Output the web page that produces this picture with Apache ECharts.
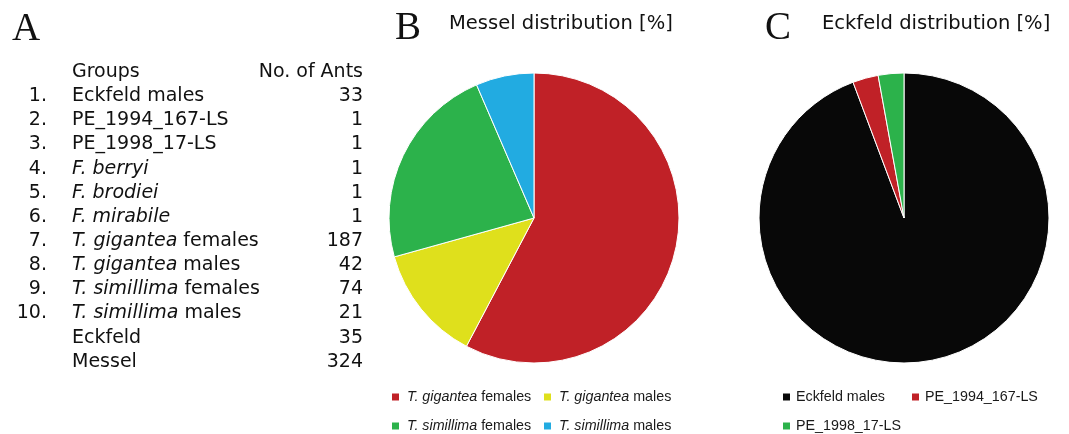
<!DOCTYPE html>
<html>
<head>
<meta charset="utf-8">
<script src="https://cdn.jsdelivr.net/npm/echarts@6/dist/echarts.min.js"></script>
<style>
  html, body { margin: 0; padding: 0; background: #fff; }
  #chart { width: 1069px; height: 434px; }
</style>
</head>
<body>
<div id="chart"></div>
<script>
// Group table (panel A)
const groupNumbers = ['1.', '2.', '3.', '4.', '5.', '6.', '7.', '8.', '9.', '10.', '', ''];
const groupNames = [
  'Eckfeld males', 'PE_1994_167-LS', 'PE_1998_17-LS', 'F. berryi', 'F. brodiei',
  'F. mirabile', 'T. gigantea females', 'T. gigantea males', 'T. simillima females',
  'T. simillima males', 'Eckfeld', 'Messel'
];
const antCounts = [33, 1, 1, 1, 1, 1, 187, 42, 74, 21, 35, 324];

// Messel distribution (panel B)
const messelNames = ['T. gigantea females', 'T. gigantea males', 'T. simillima females', 'T. simillima males'];
const messelCounts = [187, 42, 74, 21];
const messelColors = ['#c02127', '#dfe01c', '#2cb24b', '#22abe1'];

// Eckfeld distribution (panel C)
const eckfeldNames = ['Eckfeld males', 'PE_1994_167-LS', 'PE_1998_17-LS'];
const eckfeldCounts = [33, 1, 1];
const eckfeldColors = ['#080808', '#c02127', '#2cb24b'];

const TABLE_FONT = 'DejaVu Sans, Verdana, sans-serif';
const LEGEND_FONT = 'Liberation Sans, Arial, sans-serif';
const LETTER_FONT = 'Liberation Serif, Times New Roman, serif';
const INK = '#111';
const LEGEND_INK = '#1a1a1a';
const LEGEND_SIZE = 14.3;

// Species names are written with the binomial part in italics.
function markup(name) {
  const m = name.match(/^([A-Z]\. [a-z]+)(.*)$/);
  if (!m) return '{n|' + name + '}';
  return '{i|' + m[1] + '}' + (m[2] ? '{n|' + m[2] + '}' : '');
}

function richStyles(size, family, color) {
  return {
    n: { fontSize: size, fontFamily: family, fill: color, color: color },
    i: { fontSize: size, fontFamily: family, fill: color, color: color, fontStyle: 'italic' }
  };
}

function textEl(text, x, y, opts) {
  opts = opts || {};
  const size = opts.size || 19;
  const family = opts.family || TABLE_FONT;
  return {
    type: 'text',
    x: x, y: y,
    silent: true,
    style: {
      text: text,
      fontSize: size,
      fontFamily: family,
      fill: INK,
      align: opts.align || 'left',
      textAlign: opts.align || 'left',
      verticalAlign: 'middle',
      textVerticalAlign: 'middle',
      rich: richStyles(size, family, INK)
    }
  };
}

const graphics = [];
// Panel letters
graphics.push(textEl('A', 12, 29.5, { size: 39, family: LETTER_FONT }));
graphics.push(textEl('B', 395, 29, { size: 39, family: LETTER_FONT }));
graphics.push(textEl('C', 765, 29, { size: 39, family: LETTER_FONT }));
// Pie titles
graphics.push(textEl('Messel distribution [%]', 449, 23.5, { size: 19.5 }));
graphics.push(textEl('Eckfeld distribution [%]', 822, 23.5, { size: 19.5 }));

// Table header and rows
const rowTop = 72, rowStep = 24.15;
graphics.push(textEl('Groups', 72, rowTop));
graphics.push(textEl('No. of Ants', 363, rowTop, { align: 'right' }));
groupNames.forEach(function (name, k) {
  const y = rowTop + (k + 1) * rowStep;
  if (groupNumbers[k]) graphics.push(textEl(groupNumbers[k], 47, y, { align: 'right' }));
  graphics.push(textEl(markup(name), 72, y));
  graphics.push(textEl(String(antCounts[k]), 363, y, { align: 'right' }));
});

function legendFor(name, left, top, gap) {
  return {
    data: [name],
    left: left, top: top,
    icon: 'rect',
    itemWidth: 7, itemHeight: 7,
    itemStyle: { borderWidth: 0 },
    selectedMode: false,
    padding: 0,
    formatter: markup,
    textStyle: {
      color: LEGEND_INK,
      fontSize: LEGEND_SIZE,
      fontFamily: LEGEND_FONT,
      padding: [0, 0, 0, gap],
      rich: {
        n: { fontSize: LEGEND_SIZE, fontFamily: LEGEND_FONT, color: LEGEND_INK },
        i: { fontSize: LEGEND_SIZE, fontFamily: LEGEND_FONT, color: LEGEND_INK, fontStyle: 'italic' }
      }
    }
  };
}

const legends = [
  legendFor(messelNames[0], 392, 390, 3),
  legendFor(messelNames[1], 544, 390, 3),
  legendFor(messelNames[2], 392, 419, 3),
  legendFor(messelNames[3], 544, 419, 3),
  legendFor(eckfeldNames[0], 783, 390, 1),
  legendFor(eckfeldNames[1], 912, 390, 1),
  legendFor(eckfeldNames[2], 783, 419, 1)
];

function pieSeries(names, counts, colors, cx) {
  return {
    type: 'pie',
    center: [cx, 218],
    radius: [0, 145],
    startAngle: 90,
    clockwise: true,
    avoidLabelOverlap: false,
    label: { show: false },
    labelLine: { show: false },
    emphasis: { disabled: true },
    animation: false,
    itemStyle: { borderColor: '#fff', borderWidth: 1 },
    data: names.map(function (n, k) {
      return { name: n, value: counts[k], itemStyle: { color: colors[k] } };
    })
  };
}

const chart = echarts.init(document.getElementById('chart'), null, { renderer: 'canvas' });
chart.setOption({
  backgroundColor: '#fff',
  animation: false,
  legend: legends,
  graphic: graphics,
  series: [
    pieSeries(messelNames, messelCounts, messelColors, 534),
    pieSeries(eckfeldNames, eckfeldCounts, eckfeldColors, 904)
  ]
});
</script>
</body>
</html>
